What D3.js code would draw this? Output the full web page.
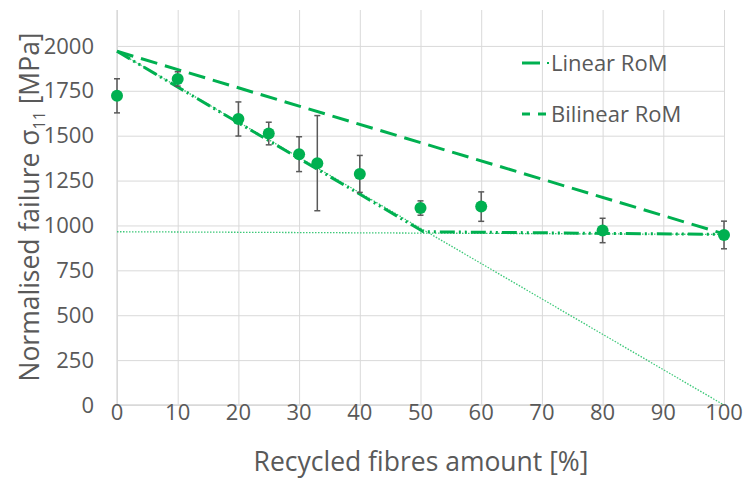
<!DOCTYPE html>
<html>
<head>
<meta charset="utf-8">
<script src="https://d3js.org/d3.v7.min.js"></script>
<style>
    body { margin: 0; background: #fff; }
    svg { background-color: white; font-family: "Open Sans", sans-serif; }
    .grid line { stroke: #d9d9d9; stroke-width: 1; }
    .grid .domain { display: none; }
    .tick-label { fill: #595959; font-size: 22px; }
</style>
</head>
<body>
<script>
    // Data
    var amounts = [0, 10, 20, 25, 30, 33, 40, 50, 60, 80, 100];
    var failure = [1722, 1816, 1593, 1512, 1397, 1347, 1287, 1097, 1105, 972, 947];
    var errors = [95, 40, 95, 63, 97, 265, 103, 40, 82, 68, 77];

    var linearX = [0, 100];
    var linearY = [1970, 953];
    var bilinearX = [0, 50.5, 100];
    var bilinearY = [1970, 965, 950];
    var fibreX = [0, 100];
    var fibreY = [1970, 0];
    var matrixX = [0, 100];
    var matrixY = [965, 950];

    var xTicks = [0, 10, 20, 30, 40, 50, 60, 70, 80, 90, 100];
    var yTicks = [0, 250, 500, 750, 1000, 1250, 1500, 1750, 2000];

    var green = "#00b050";

    // SVG dimensions
    var SVGWidth = 745;
    var SVGHeight = 480;
    var plot = {left: 117, right: 724, top: 10, bottom: 405};

    var svg = d3.select("body")
        .append("svg")
        .attr("width", SVGWidth)
        .attr("height", SVGHeight);

    var x = d3.scaleLinear().domain([0, 100]).range([plot.left, plot.right]);
    var y = d3.scaleLinear().domain([0, 2200]).range([plot.bottom, plot.top]);

    // Grid
    svg.append("g")
        .attr("class", "grid")
        .attr("transform", "translate(0," + plot.bottom + ")")
        .call(d3.axisBottom(x).tickValues(xTicks).tickSize(-(plot.bottom - plot.top)).tickFormat(""));

    svg.append("g")
        .attr("class", "grid")
        .attr("transform", "translate(" + plot.left + ",0)")
        .call(d3.axisLeft(y).tickValues(yTicks).tickSize(-(plot.right - plot.left)).tickFormat(""));

    // Axis lines
    svg.append("line")
        .attr("x1", plot.left).attr("x2", plot.right)
        .attr("y1", plot.bottom).attr("y2", plot.bottom)
        .attr("stroke", "#d9d9d9").attr("stroke-width", 1.3);
    svg.append("line")
        .attr("x1", plot.left).attr("x2", plot.left)
        .attr("y1", plot.top).attr("y2", plot.bottom)
        .attr("stroke", "#d9d9d9").attr("stroke-width", 1.3);

    // Tick labels
    svg.selectAll(".xlab")
        .data(xTicks)
        .enter()
        .append("text")
        .attr("class", "tick-label")
        .attr("x", function(d) { return x(d); })
        .attr("y", 412)
        .attr("text-anchor", "middle")
        .attr("dy", "0.35em")
        .text(function(d) { return d; });

    svg.selectAll(".ylab")
        .data(yTicks)
        .enter()
        .append("text")
        .attr("class", "tick-label")
        .attr("x", 94)
        .attr("y", function(d) { return y(d); })
        .attr("text-anchor", "end")
        .attr("dy", "0.35em")
        .text(function(d) { return d; });

    // Axis titles
    svg.append("text")
        .attr("x", 421)
        .attr("y", 471)
        .attr("text-anchor", "middle")
        .style("fill", "#595959")
        .style("font-size", "26.5px")
        .text("Recycled fibres amount [%]");

    var yTitle = svg.append("text")
        .attr("transform", "translate(39," + 207 + ") rotate(-90)")
        .attr("text-anchor", "middle")
        .style("fill", "#595959")
        .style("font-size", "26.5px");
    yTitle.append("tspan").text("Normalised failure σ");
    yTitle.append("tspan").attr("dy", 6).style("font-size", "16px").text("11");
    yTitle.append("tspan").attr("dy", -6).text(" [MPa]");

    // Lines
    function pts(xs, ys) {
        return xs.map(function(v, i) { return [v, ys[i]]; });
    }
    var line = d3.line()
        .x(function(d) { return x(d[0]); })
        .y(function(d) { return y(d[1]); });

    svg.append("path")
        .datum(pts(fibreX, fibreY))
        .attr("d", line)
        .attr("fill", "none")
        .attr("stroke", "#3cc878")
        .attr("stroke-width", 1.3)
        .attr("stroke-dasharray", "1.5,1.5");

    svg.append("path")
        .datum(pts(matrixX, matrixY))
        .attr("d", line)
        .attr("fill", "none")
        .attr("stroke", "#3cc878")
        .attr("stroke-width", 1.3)
        .attr("stroke-dasharray", "1.5,1.5");

    svg.append("path")
        .datum(pts(linearX, linearY))
        .attr("d", line)
        .attr("fill", "none")
        .attr("stroke", green)
        .attr("stroke-width", 3)
        .attr("stroke-dasharray", "17,8");

    svg.append("path")
        .datum(pts(bilinearX, bilinearY))
        .attr("d", line)
        .attr("fill", "none")
        .attr("stroke", green)
        .attr("stroke-width", 3)
        .attr("stroke-dasharray", "15,4,2,4,2,4");

    // Error bars
    var eb = svg.append("g")
        .attr("stroke", "#595959")
        .attr("stroke-width", 1.5);

    amounts.forEach(function(a, i) {
        var cx = x(a);
        var top = y(failure[i] + errors[i]);
        var bot = y(failure[i] - errors[i]);
        eb.append("line").attr("x1", cx).attr("x2", cx).attr("y1", top).attr("y2", bot);
        eb.append("line").attr("x1", cx - 3).attr("x2", cx + 3).attr("y1", top).attr("y2", top);
        eb.append("line").attr("x1", cx - 3).attr("x2", cx + 3).attr("y1", bot).attr("y2", bot);
    });

    // Points
    svg.selectAll(".dot")
        .data(amounts)
        .enter()
        .append("circle")
        .attr("cx", function(d) { return x(d); })
        .attr("cy", function(d, i) { return y(failure[i]); })
        .attr("r", 6)
        .attr("fill", green);

    // Legend
    var legend = svg.append("g");
    legend.append("line")
        .attr("x1", 522).attr("x2", 540).attr("y1", 63).attr("y2", 63)
        .attr("stroke", green).attr("stroke-width", 3);
    legend.append("line")
        .attr("x1", 547).attr("x2", 549).attr("y1", 63).attr("y2", 63)
        .attr("stroke", green).attr("stroke-width", 2);
    legend.append("line")
        .attr("x1", 522).attr("x2", 546).attr("y1", 114).attr("y2", 114)
        .attr("stroke", green).attr("stroke-width", 3)
        .attr("stroke-dasharray", "8,8");

    legend.append("text")
        .attr("x", 551).attr("y", 63).attr("dy", "0.35em")
        .style("fill", "#595959").style("font-size", "22px")
        .text("Linear RoM");
    legend.append("text")
        .attr("x", 551).attr("y", 114).attr("dy", "0.35em")
        .style("fill", "#595959").style("font-size", "22px")
        .text("Bilinear RoM");
</script>
</body>
</html>
